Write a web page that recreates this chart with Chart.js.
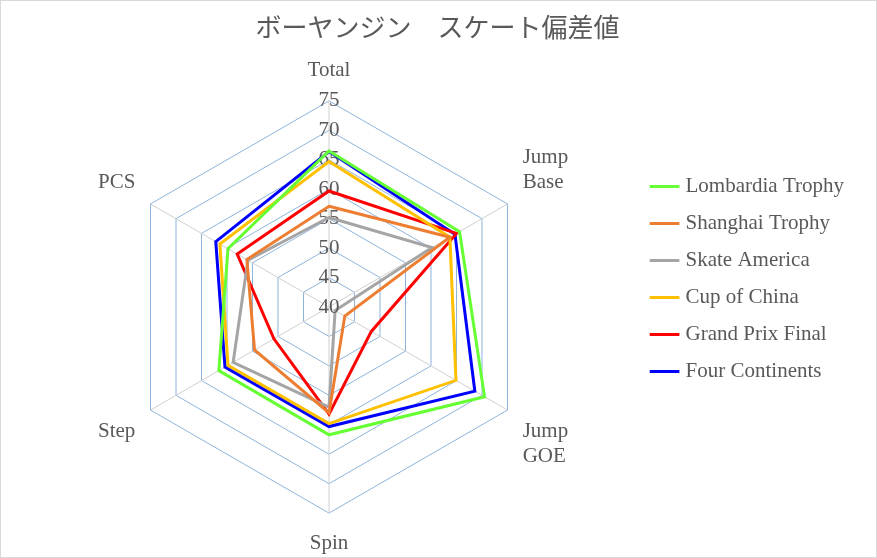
<!DOCTYPE html>
<html>
<head>
<meta charset="utf-8">
<script src="https://cdn.jsdelivr.net/npm/chart.js@4"></script>
<style>
  body { margin: 0; background: #fff; }
  #wrap { position: absolute; left: 0; top: 0; width: 875px; height: 556px; border: 1px solid #d9d9d9; }
</style>
</head>
<body>
<div id="wrap"><canvas id="chart"></canvas></div>
<script>
const labels = ['Total', ['Jump', 'Base'], ['Jump', 'GOE'], 'Spin', 'Step', 'PCS'];
const lombardia = [66.5, 65.6, 70.5, 61.7, 61.6, 59.8];
const shanghai = [57.1, 63.7, 43.1, 58.0, 54.6, 56.1];
const skateAmerica = [55.2, 60.2, 41.2, 57.0, 58.8, 55.9];
const cupOfChina = [64.7, 63.7, 64.9, 59.8, 59.8, 61.4];
const gpFinal = [59.7, 65.0, 48.3, 58.2, 50.8, 58.0];
const fourContinents = [66.4, 64.7, 68.6, 60.3, 60.4, 62.2];

const font = "'Liberation Serif', 'Noto Sans CJK JP', serif";
const ds = (label, data, color) => ({
  label, data, borderColor: color, backgroundColor: color,
  borderWidth: 3, pointRadius: 0, fill: false
});

// Chart.js skips the label of the innermost tick, draw it ourselves
const minTickLabel = {
  id: 'minTickLabel',
  afterDraw(chart) {
    const r = chart.scales.r;
    const c = chart.ctx;
    c.save();
    c.font = '21px ' + font;
    c.fillStyle = '#595959';
    c.textAlign = 'center';
    c.textBaseline = 'middle';
    c.fillText(String(r.min), r.xCenter, r.yCenter);
    c.restore();
  }
};

new Chart(document.getElementById('chart'), {
  type: 'radar',
  data: {
    labels,
    datasets: [
      ds('Lombardia Trophy', lombardia, '#66ff33'),
      ds('Shanghai Trophy', shanghai, '#ed7d31'),
      ds('Skate America', skateAmerica, '#a5a5a5'),
      ds('Cup of China', cupOfChina, '#ffc000'),
      ds('Grand Prix Final', gpFinal, '#ff0000'),
      ds('Four Continents', fourContinents, '#0000ff')
    ]
  },
  plugins: [minTickLabel],
  options: {
    responsive: true,
    maintainAspectRatio: false,
    animation: false,
    layout: { padding: { left: 20, right: 22, top: 0, bottom: 0 } },
    elements: { line: { tension: 0 } },
    plugins: {
      title: {
        display: true,
        text: 'ボーヤンジン　スケート偏差値',
        color: '#595959',
        font: { family: font, size: 26, weight: 'normal' },
        padding: { top: 14, bottom: 12 }
      },
      legend: {
        position: 'right',
        labels: {
          color: '#595959',
          font: { family: font, size: 21 },
          usePointStyle: true,
          pointStyle: 'line',
          boxWidth: 40,
          padding: 16
        }
      }
    },
    scales: {
      r: {
        min: 40,
        max: 75,
        ticks: {
          stepSize: 5,
          color: '#595959',
          showLabelBackdrop: false,
          font: { family: font, size: 21 }
        },
        grid: { color: '#8db4dc', lineWidth: 1 },
        angleLines: { color: '#d0d0d0' },
        pointLabels: {
          color: '#595959',
          font: { family: font, size: 21 }
        }
      }
    }
  }
});
</script>
</body>
</html>
